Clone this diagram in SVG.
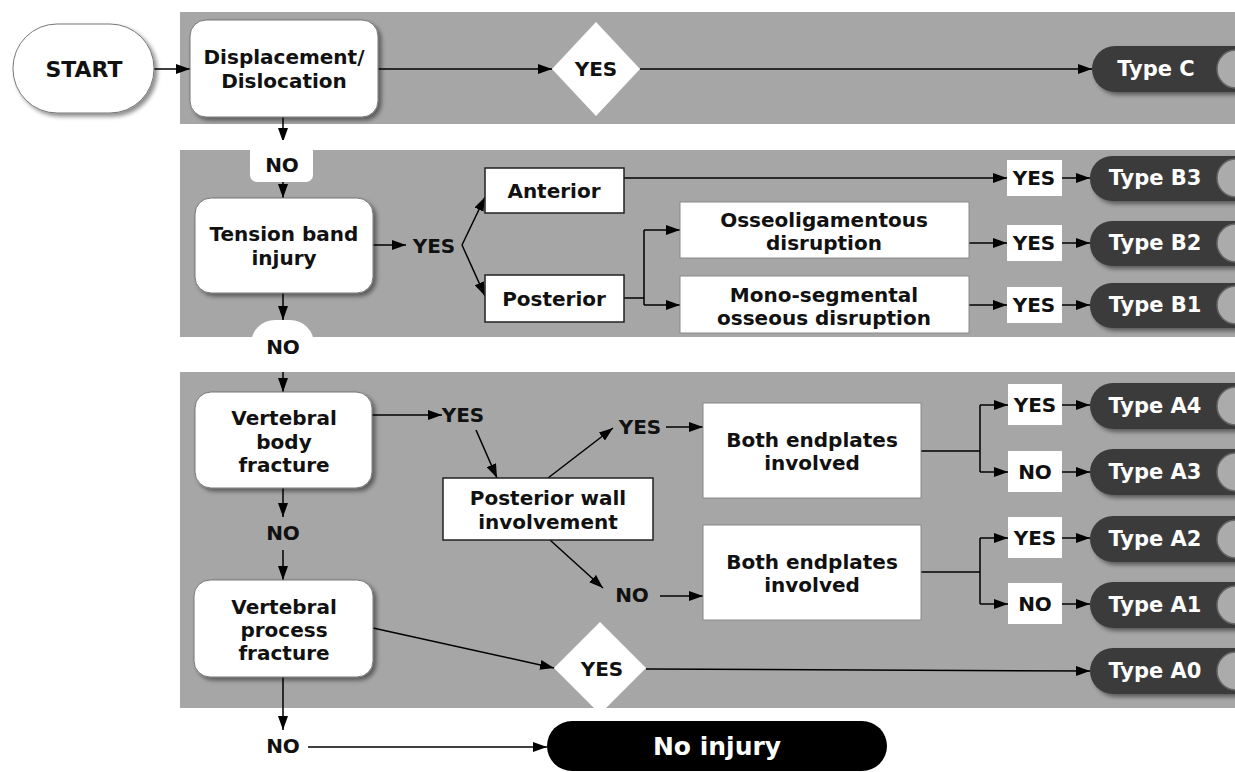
<svg xmlns="http://www.w3.org/2000/svg" width="1235" height="772" viewBox="0 0 1235 772">
<defs>
  <marker id="ah" viewBox="0 0 14 10" refX="14" refY="5" markerWidth="14" markerHeight="10" markerUnits="userSpaceOnUse" orient="auto">
    <path d="M0,0 L14,5 L0,10 z" fill="#000"/>
  </marker>
  <filter id="sh" x="-10%" y="-10%" width="130%" height="140%">
    <feDropShadow dx="3" dy="3" stdDeviation="2" flood-color="#000" flood-opacity="0.45"/>
  </filter>
</defs>
<style>
  text { font-family: "DejaVu Sans", Verdana, sans-serif; font-weight: bold; font-size: 20px; fill: #111; text-anchor: middle; dominant-baseline: central; }
  .panel { fill: #a6a6a6; }
  .rbox { fill: #fff; stroke: #777; stroke-width: 1; filter: url(#sh); }
  .sbox { fill: #fff; stroke: #222; stroke-width: 1.5; }
  .dbox { fill: #fff; stroke: #888; stroke-width: 1; }
  .lbl { fill: #fff; }
  .pill { fill: #3b3b3b; filter: url(#sh); }
  .knob { fill: #ababab; stroke: #666; stroke-width: 1.5; }
  .tt { fill: #fff; font-size: 21px; }
  .ln { fill: none; stroke: #000; stroke-width: 1.5; }
  .ar { fill: none; stroke: #000; stroke-width: 1.5; marker-end: url(#ah); }
</style>
<rect width="1235" height="772" fill="#fff"/>
<g id="panels">
  <rect class="panel" x="180" y="12" width="1055" height="112"/>
  <rect class="panel" x="180" y="150" width="1055" height="187"/>
  <rect class="panel" x="180" y="372" width="1055" height="336"/>
</g>
<g id="connectors">
  <path class="ar" d="M154,69 L190,69"/>
  <path class="ar" d="M378,69 L552,69"/>
  <path class="ar" d="M640,69 L1092,69"/>
  <path class="ar" d="M283,117 L283,142"/>
  <path class="ar" d="M283,182 L283,198"/>
  <path class="ar" d="M373,245 L406,245"/>
  <path class="ar" d="M462,245 L485,197"/>
  <path class="ar" d="M462,245 L485,296"/>
  <path class="ar" d="M624,178 L1007,178"/>
  <path class="ln" d="M624,298 L644,298 M644,230 L644,305"/>
  <path class="ar" d="M644,230 L680,230"/>
  <path class="ar" d="M644,305 L680,305"/>
  <path class="ar" d="M969,243 L1007,243"/>
  <path class="ar" d="M969,305 L1007,305"/>
  <path class="ar" d="M1062,178 L1090,178"/>
  <path class="ar" d="M1062,243 L1090,243"/>
  <path class="ar" d="M1062,305 L1090,305"/>
  <path class="ar" d="M283,293 L283,320"/>
  <path class="ar" d="M283,362 L283,392"/>
  <path class="ar" d="M372,415 L442,415"/>
  <path class="ar" d="M476,430 L497,478"/>
  <path class="ar" d="M548,478 L613,428"/>
  <path class="ar" d="M666,427 L703,427"/>
  <path class="ar" d="M550,540 L603,588"/>
  <path class="ar" d="M660,596 L703,596"/>
  <path class="ln" d="M921,451 L980,451 M980,405 L980,472"/>
  <path class="ar" d="M980,405 L1008,405"/>
  <path class="ar" d="M980,472 L1008,472"/>
  <path class="ln" d="M921,572 L980,572 M980,538 L980,604"/>
  <path class="ar" d="M980,538 L1008,538"/>
  <path class="ar" d="M980,604 L1008,604"/>
  <path class="ar" d="M1062,405 L1090,405"/>
  <path class="ar" d="M1062,472 L1090,472"/>
  <path class="ar" d="M1062,538 L1090,538"/>
  <path class="ar" d="M1062,604 L1090,604"/>
  <path class="ar" d="M283,488 L283,517"/>
  <path class="ar" d="M283,550 L283,580"/>
  <path class="ar" d="M373,628 L554,668"/>
  <path class="ar" d="M646,669 L1090,671"/>
  <path class="ar" d="M283,677 L283,730"/>
  <path class="ar" d="M308,747 L547,747"/>
</g>
<g id="start"><rect class="rbox" x="13" y="24" width="141" height="89" rx="44"/><text x="84" y="69" style="font-size:22px">START</text></g>
<g id="displacement"><rect class="rbox" x="190" y="20" width="188" height="97" rx="16"/><text x="284" y="57">Displacement/</text><text x="284" y="81">Dislocation</text></g>
<g id="yes-c"><polygon points="596,22 640,69 596,116 552,69" fill="#fff"/><text x="596" y="69">YES</text></g>
<g id="type-c"><rect class="pill" x="1092" y="46" width="170" height="46" rx="23"/><circle class="knob" cx="1236" cy="69" r="19"/><text class="tt" x="1156" y="69">Type C</text></g>
<g id="no-1"><rect class="lbl" x="250" y="140" width="63" height="42" rx="7"/><text x="282" y="165">NO</text></g>
<g id="tension"><rect class="rbox" x="195" y="198" width="178" height="95" rx="16"/><text x="284" y="234">Tension band</text><text x="284" y="258">injury</text></g>
<g id="yes-tension"><text x="434" y="246">YES</text></g>
<g id="anterior"><rect class="sbox" x="485" y="168" width="139" height="45"/><text x="554" y="191">Anterior</text></g>
<g id="posterior"><rect class="sbox" x="485" y="275" width="139" height="47"/><text x="554" y="299">Posterior</text></g>
<g id="osseo"><rect class="dbox" x="680" y="202" width="289" height="56"/><text x="824" y="220">Osseoligamentous</text><text x="824" y="243">disruption</text></g>
<g id="mono"><rect class="dbox" x="680" y="276" width="289" height="57"/><text x="824" y="295">Mono-segmental</text><text x="824" y="318">osseous disruption</text></g>
<g id="yes-b3"><rect class="lbl" x="1007" y="160" width="55" height="36"/><text x="1034" y="178">YES</text></g>
<g id="yes-b2"><rect class="lbl" x="1007" y="225" width="55" height="36"/><text x="1034" y="243">YES</text></g>
<g id="yes-b1"><rect class="lbl" x="1007" y="287" width="55" height="36"/><text x="1034" y="305">YES</text></g>
<g id="type-b3"><rect class="pill" x="1090" y="156" width="170" height="45" rx="22"/><circle class="knob" cx="1236" cy="178" r="19"/><text class="tt" x="1155" y="178">Type B3</text></g>
<g id="type-b2"><rect class="pill" x="1090" y="221" width="170" height="45" rx="22"/><circle class="knob" cx="1236" cy="243" r="19"/><text class="tt" x="1155" y="243">Type B2</text></g>
<g id="type-b1"><rect class="pill" x="1090" y="283" width="170" height="45" rx="22"/><circle class="knob" cx="1236" cy="305" r="19"/><text class="tt" x="1155" y="305">Type B1</text></g>
<g id="no-2"><rect class="lbl" x="251" y="320" width="63" height="52" rx="24"/><text x="283" y="347">NO</text></g>
<g id="vert-body"><rect class="rbox" x="195" y="392" width="177" height="96" rx="16"/><text x="284" y="418">Vertebral</text><text x="284" y="442">body</text><text x="284" y="465">fracture</text></g>
<g id="yes-vb"><text x="463" y="415">YES</text></g>
<g id="post-wall"><rect class="sbox" x="443" y="478" width="210" height="62"/><text x="548" y="498">Posterior wall</text><text x="548" y="522">involvement</text></g>
<g id="yes-pw"><text x="640" y="427">YES</text></g>
<g id="no-pw"><text x="632" y="595">NO</text></g>
<g id="both-1"><rect class="dbox" x="703" y="403" width="218" height="95"/><text x="812" y="440">Both endplates</text><text x="812" y="463">involved</text></g>
<g id="both-2"><rect class="dbox" x="703" y="525" width="218" height="95"/><text x="812" y="562">Both endplates</text><text x="812" y="585">involved</text></g>
<g id="yes-a4"><rect class="lbl" x="1008" y="384" width="54" height="41"/><text x="1035" y="405">YES</text></g>
<g id="no-a3"><rect class="lbl" x="1008" y="451" width="54" height="41"/><text x="1035" y="472">NO</text></g>
<g id="yes-a2"><rect class="lbl" x="1008" y="517" width="54" height="41"/><text x="1035" y="538">YES</text></g>
<g id="no-a1"><rect class="lbl" x="1008" y="583" width="54" height="41"/><text x="1035" y="604">NO</text></g>
<g id="type-a4"><rect class="pill" x="1090" y="383" width="170" height="46" rx="23"/><circle class="knob" cx="1236" cy="406" r="19"/><text class="tt" x="1155" y="406">Type A4</text></g>
<g id="type-a3"><rect class="pill" x="1090" y="449" width="170" height="46" rx="23"/><circle class="knob" cx="1236" cy="472" r="19"/><text class="tt" x="1155" y="472">Type A3</text></g>
<g id="type-a2"><rect class="pill" x="1090" y="516" width="170" height="46" rx="23"/><circle class="knob" cx="1236" cy="539" r="19"/><text class="tt" x="1155" y="539">Type A2</text></g>
<g id="type-a1"><rect class="pill" x="1090" y="582" width="170" height="46" rx="23"/><circle class="knob" cx="1236" cy="605" r="19"/><text class="tt" x="1155" y="605">Type A1</text></g>
<g id="type-a0"><rect class="pill" x="1090" y="648" width="170" height="46" rx="23"/><circle class="knob" cx="1236" cy="671" r="19"/><text class="tt" x="1155" y="671">Type A0</text></g>
<g id="no-vb"><text x="283" y="533">NO</text></g>
<g id="vert-process"><rect class="rbox" x="194" y="580" width="179" height="97" rx="16"/><text x="284" y="607">Vertebral</text><text x="284" y="630">process</text><text x="284" y="653">fracture</text></g>
<g id="yes-a0"><polygon points="600,622 646,668 600,714 554,668" fill="#fff"/><text x="602" y="669">YES</text></g>
<g id="no-vp"><text x="283" y="746">NO</text></g>
<g id="no-injury"><rect x="547" y="721" width="340" height="50" rx="25" fill="#000"/><text x="717" y="746" style="fill:#fff;font-size:25px">No injury</text></g>
</svg>
